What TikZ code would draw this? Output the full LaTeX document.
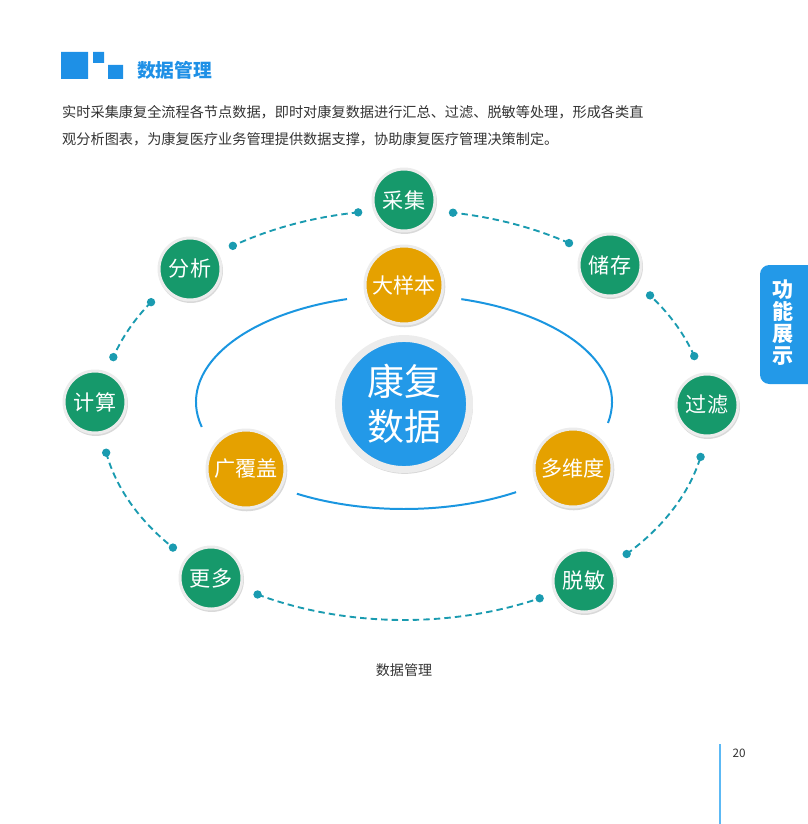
\documentclass[tikz,border=0pt]{standalone}
\usepackage{fontspec}
\setmainfont{Noto Sans CJK SC}
\usetikzlibrary{shadows}
\definecolor{leafgreen}{HTML}{16996B}
\definecolor{hubyellow}{HTML}{E5A100}
\definecolor{coreblue}{HTML}{2399E8}
\definecolor{ringblue}{HTML}{1A96E0}
\definecolor{dashteal}{HTML}{1A9BB0}
\definecolor{rimgrey}{HTML}{ECECEC}
\definecolor{textgrey}{HTML}{333333}
\definecolor{titleblue}{HTML}{1E90E6}
\definecolor{pageblue}{HTML}{5CB9F5}
\tikzset{
  ball/.style={circle, draw=rimgrey, text=white, inner sep=0pt,
    drop shadow={opacity=0.3, shadow xshift=0.6pt, shadow yshift=-1.4pt, shadow scale=1.04}},
  leaf/.style={ball, fill=leafgreen, line width=2.55pt, minimum size=1.86cm, font=\fontsize{18}{20}\selectfont},
  hub/.style={ball, fill=hubyellow, line width=2.55pt, minimum size=2.34cm, font=\fontsize{18}{20}\selectfont},
  core/.style={ball, fill=coreblue, line width=5.9pt, minimum size=3.93cm, align=center, font=\fontsize{31.5}{38}\selectfont},
  dashlink/.style={dashteal, line width=1.6pt, dash pattern=on 5.5pt off 3.5pt},
  ringline/.style={ringblue, line width=1.7pt}
}
\begin{document}
\begin{tikzpicture}[x=0.03cm,y=0.03cm]
	\useasboundingbox (0,0) rectangle (807,-824);
	\fill[titleblue] (61,-52) rectangle (88,-79) (93,-52) rectangle (104,-63) (108,-65) rectangle (123,-79);
	\node[anchor=west, inner sep=0pt, text=titleblue, font=\fontsize{16}{18}\selectfont\bfseries] (title) at (137,-70) {数据管理};
	\node[anchor=west, inner sep=0pt, text=textgrey, font=\fontsize{12.1}{14}\selectfont] (line1) at (62,-112) {实时采集康复全流程各节点数据，即时对康复数据进行汇总、过滤、脱敏等处理，形成各类直};
	\node[anchor=west, inner sep=0pt, text=textgrey, font=\fontsize{12.1}{14}\selectfont] (line2) at (62,-139) {观分析图表，为康复医疗业务管理提供数据支撑，协助康复医疗管理决策制定。};
	\fill[coreblue, rounded corners=8] (830,-265) -- (760,-265) -- (760,-384) -- (830,-384) -- cycle;
	\node[text=white, align=center, font=\fontsize{18}{18.7}\selectfont\bfseries] (tab) at (783,-323) {功\\能\\展\\示};
	\coordinate (ec) at (404,-415);
	\foreach \a/\b in {98.7/124.4, 146.6/163.6, 190.6/220.3, 241.1/296.6, 317.3/348.2, 16.7/35.7, 57/80.7} {
		\draw[dashlink] (ec) ++(\a:303 and 205) coordinate (p) arc[start angle=\a, end angle=\b, x radius=303, y radius=205] coordinate (q);
		\fill[dashteal] (p) circle (4.2) (q) circle (4.2);
	}
	\coordinate (ic) at (404,-402);
	\foreach \a/\b in {105.9/193.5, 74/-11.3, 239/302.6}
		\draw[ringline] (ic) ++(\a:208 and 107) arc[start angle=\a, end angle=\b, x radius=208, y radius=107];
	\node[leaf] (caiji) at (404,-200) {采集};
	\node[leaf] (chucun) at (610,-265) {储存};
	\node[leaf] (guolv) at (707,-405) {过滤};
	\node[leaf] (tuomin) at (584,-581) {脱敏};
	\node[leaf] (gengduo) at (211,-578) {更多};
	\node[leaf] (jisuan) at (95,-402) {计算};
	\node[leaf] (fenxi) at (190,-269) {分析};
	\node[hub] (dayangben) at (404,-285) {大样本};
	\node[hub] (guangfugai) at (246,-469) {广覆盖};
	\node[hub] (duoweidu) at (573,-468) {多维度};
	\node[core] (kangfu) at (404,-404) {康复\\数据};
	\node[text=textgrey, font=\fontsize{12}{14}\selectfont] (caption) at (404,-670) {数据管理};
	\draw[pageblue, line width=1.3pt] (720,-744) -- (720,-824);
	\node[text=textgrey, font=\fontsize{10}{12}\selectfont] (page) at (739,-753) {20};
\end{tikzpicture}
\end{document}
